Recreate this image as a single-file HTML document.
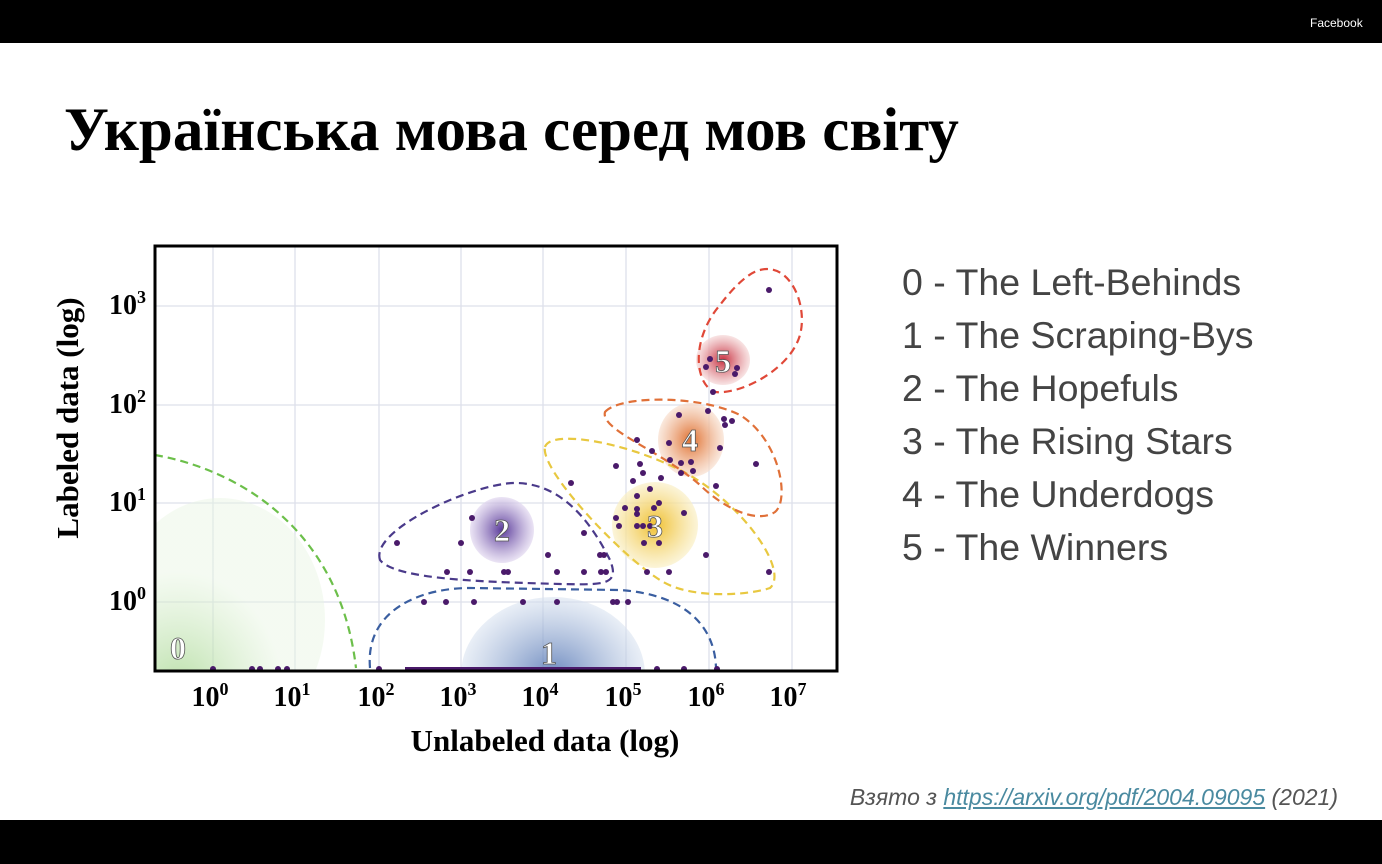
<!DOCTYPE html>
<html><head><meta charset="utf-8"><style>
body{margin:0;width:1382px;height:864px;background:#fff;position:relative;overflow:hidden;font-family:"Liberation Sans",sans-serif}
.bar{position:absolute;left:0;width:1382px;background:#000}
.t{position:absolute;white-space:nowrap}
</style></head><body>
<div class="bar" style="top:0;height:43px"></div>
<div class="bar" style="top:820px;height:44px"></div>
<div class="t" style="left:1310px;top:16px;color:#fff;font-size:12px">Facebook</div>
<div class="t" style="left:64px;top:96px;font-family:'Liberation Serif','Noto Serif CJK SC',serif;font-weight:bold;font-size:61px;color:#000">Українська мова серед мов світу</div>
<div class="t" style="left:902px;top:256px;font-size:37.5px;color:#444;line-height:53px">0 - The Left-Behinds<br>1 - The Scraping-Bys<br>2 - The Hopefuls<br>3 - The Rising Stars<br>4 - The Underdogs<br>5 - The Winners</div>
<div class="t" style="right:44px;top:784px;font-size:23px;font-style:italic;color:#555">Взято з <span style="color:#4a8aa0;text-decoration:underline">https://arxiv.org/pdf/2004.09095</span> (2021)</div>
<svg width="1382" height="864" style="position:absolute;left:0;top:0" font-family="Liberation Serif,serif">
<defs>
<clipPath id="c"><rect x="155" y="246" width="682" height="425"/></clipPath>
<radialGradient id="g0" cx="0.3" cy="0.8"><stop offset="0" stop-color="#a0d488"/><stop offset="1" stop-color="#e8f5e2" stop-opacity="0.6"/></radialGradient>
<radialGradient id="g1"><stop offset="0" stop-color="#4a6eb0"/><stop offset="1" stop-color="#d8e2f0" stop-opacity="0.7"/></radialGradient>
<radialGradient id="g2"><stop offset="0" stop-color="#5a3a9a"/><stop offset="1" stop-color="#e2d8f0" stop-opacity="0.7"/></radialGradient>
<radialGradient id="g3"><stop offset="0" stop-color="#f0c030"/><stop offset="1" stop-color="#faf0c8" stop-opacity="0.7"/></radialGradient>
<radialGradient id="g4"><stop offset="0" stop-color="#e07030"/><stop offset="1" stop-color="#f8e0d0" stop-opacity="0.7"/></radialGradient>
<radialGradient id="g5"><stop offset="0" stop-color="#c83040"/><stop offset="1" stop-color="#f5d8d8" stop-opacity="0.7"/></radialGradient>
</defs>
<g stroke="#dde0ea" stroke-width="1.3">
<line x1="213" y1="246" x2="213" y2="671"/><line x1="295" y1="246" x2="295" y2="671"/><line x1="379" y1="246" x2="379" y2="671"/><line x1="461" y1="246" x2="461" y2="671"/><line x1="543" y1="246" x2="543" y2="671"/><line x1="626" y1="246" x2="626" y2="671"/><line x1="709" y1="246" x2="709" y2="671"/><line x1="792" y1="246" x2="792" y2="671"/>
<line x1="155" y1="306" x2="837" y2="306"/><line x1="155" y1="405" x2="837" y2="405"/><line x1="155" y1="503" x2="837" y2="503"/><line x1="155" y1="602" x2="837" y2="602"/>
</g>
<g clip-path="url(#c)">
<ellipse cx="220" cy="620" rx="105" ry="122" fill="url(#g0)" opacity="0.75"/>
<ellipse cx="553" cy="675" rx="92" ry="78" fill="url(#g1)" opacity="0.8"/>
<ellipse cx="502" cy="530" rx="32" ry="33" fill="url(#g2)"/>
<ellipse cx="655" cy="525" rx="43" ry="43" fill="url(#g3)"/>
<ellipse cx="691" cy="440" rx="33" ry="37" fill="url(#g4)"/>
<ellipse cx="723" cy="360" rx="27" ry="25" fill="url(#g5)"/>
<g fill="none" stroke-width="2.2" stroke-dasharray="8,5">
<path d="M155 455 C240 470 340 530 356 668" stroke="#6cbf4a"/>
<path d="M370 668 C365 610 420 588 470 588 L620 590 C690 595 715 630 716 668" stroke="#3a5ea0"/>
<path d="M380 560 C370 530 470 485 513 483 C560 482 590 520 610 560 C620 585 605 585 560 584 C490 582 395 580 380 560 Z" stroke="#4a3a8a"/>
<path d="M545 447 C550 430 620 440 680 470 C740 500 790 570 770 588 C750 595 690 600 660 580 C620 555 540 470 545 447 Z" stroke="#e8c840"/>
<path d="M605 412 C620 395 700 395 740 415 C780 440 790 500 775 512 C755 525 720 505 700 485 C660 450 600 430 605 412 Z" stroke="#e07038"/>
<path d="M760 270 C790 262 808 305 800 335 C790 370 740 395 715 392 C695 385 690 340 720 305 C735 285 750 272 760 270 Z" stroke="#e04838"/>
</g>
<g fill="#4a1a6a">
<circle cx="769" cy="290" r="3"/><circle cx="710" cy="359" r="3"/><circle cx="706" cy="367" r="3"/><circle cx="737" cy="368" r="3"/><circle cx="735" cy="374" r="3"/><circle cx="713" cy="392" r="3"/>
<circle cx="708" cy="411" r="3"/><circle cx="679" cy="415" r="3"/><circle cx="724" cy="419" r="3"/><circle cx="732" cy="421" r="3"/><circle cx="725" cy="425" r="3"/><circle cx="637" cy="440" r="3"/><circle cx="669" cy="443" r="3"/><circle cx="720" cy="448" r="3"/><circle cx="652" cy="451" r="3"/><circle cx="670" cy="460" r="3"/><circle cx="681" cy="463" r="3"/><circle cx="691" cy="462" r="3"/><circle cx="640" cy="464" r="3"/><circle cx="616" cy="466" r="3"/><circle cx="756" cy="464" r="3"/><circle cx="681" cy="473" r="3"/><circle cx="693" cy="471" r="3"/><circle cx="643" cy="473" r="3"/><circle cx="661" cy="478" r="3"/><circle cx="633" cy="481" r="3"/><circle cx="716" cy="486" r="3"/><circle cx="571" cy="483" r="3"/>
<circle cx="650" cy="489" r="3"/><circle cx="637" cy="496" r="3"/><circle cx="659" cy="503" r="3"/><circle cx="625" cy="508" r="3"/><circle cx="637" cy="509" r="3"/><circle cx="654" cy="508" r="3"/><circle cx="684" cy="513" r="3"/><circle cx="616" cy="518" r="3"/><circle cx="637" cy="514" r="3"/><circle cx="619" cy="526" r="3"/><circle cx="637" cy="526" r="3"/><circle cx="643" cy="526" r="3"/><circle cx="650" cy="526" r="3"/><circle cx="644" cy="543" r="3"/><circle cx="659" cy="543" r="3"/><circle cx="706" cy="555" r="3"/><circle cx="647" cy="572" r="3"/><circle cx="669" cy="572" r="3"/><circle cx="769" cy="572" r="3"/>
<circle cx="472" cy="518" r="3"/><circle cx="397" cy="543" r="3"/><circle cx="461" cy="543" r="3"/><circle cx="584" cy="533" r="3"/><circle cx="548" cy="555" r="3"/><circle cx="600" cy="555" r="3"/><circle cx="604" cy="555" r="3"/><circle cx="447" cy="572" r="3"/><circle cx="470" cy="572" r="3"/><circle cx="504" cy="572" r="3"/><circle cx="508" cy="572" r="3"/><circle cx="557" cy="572" r="3"/><circle cx="584" cy="572" r="3"/><circle cx="601" cy="572" r="3"/><circle cx="606" cy="572" r="3"/>
<circle cx="424" cy="602" r="3"/><circle cx="446" cy="602" r="3"/><circle cx="474" cy="602" r="3"/><circle cx="523" cy="602" r="3"/><circle cx="557" cy="602" r="3"/><circle cx="613" cy="602" r="3"/><circle cx="617" cy="602" r="3"/><circle cx="628" cy="602" r="3"/>
<circle cx="213" cy="669" r="3"/><circle cx="252" cy="669" r="3"/><circle cx="260" cy="669" r="3"/><circle cx="278" cy="669" r="3"/><circle cx="287" cy="669" r="3"/><circle cx="379" cy="669" r="3"/><circle cx="657" cy="669" r="3"/><circle cx="684" cy="669" r="3"/><circle cx="717" cy="669" r="3"/>
<rect x="405" y="667" width="236" height="4"/>
</g>
<g font-weight="bold" font-size="32" fill="#fff" stroke="#555" stroke-width="0.8" text-anchor="middle">
<text x="178" y="659">0</text><text x="549" y="664">1</text><text x="502" y="541">2</text><text x="655" y="537">3</text><text x="690" y="451">4</text><text x="723" y="372">5</text>
</g>
</g>
<rect x="155" y="246" width="682" height="425" fill="none" stroke="#000" stroke-width="3"/>
<g font-weight="bold" font-size="28" fill="#000" text-anchor="middle">
<text x="210" y="706">10<tspan dy="-11" font-size="18">0</tspan></text>
<text x="292" y="706">10<tspan dy="-11" font-size="18">1</tspan></text>
<text x="376" y="706">10<tspan dy="-11" font-size="18">2</tspan></text>
<text x="458" y="706">10<tspan dy="-11" font-size="18">3</tspan></text>
<text x="540" y="706">10<tspan dy="-11" font-size="18">4</tspan></text>
<text x="623" y="706">10<tspan dy="-11" font-size="18">5</tspan></text>
<text x="706" y="706">10<tspan dy="-11" font-size="18">6</tspan></text>
<text x="788" y="706">10<tspan dy="-11" font-size="18">7</tspan></text>
</g>
<g font-weight="bold" font-size="28" fill="#000" text-anchor="end">
<text x="146" y="314">10<tspan dy="-11" font-size="18">3</tspan></text>
<text x="146" y="413">10<tspan dy="-11" font-size="18">2</tspan></text>
<text x="146" y="511">10<tspan dy="-11" font-size="18">1</tspan></text>
<text x="146" y="610">10<tspan dy="-11" font-size="18">0</tspan></text>
</g>
<text x="545" y="751" font-weight="bold" font-size="31" text-anchor="middle">Unlabeled data (log)</text>
<text transform="translate(78,418) rotate(-90)" font-weight="bold" font-size="31" text-anchor="middle">Labeled data (log)</text>
</svg>
</body></html>
